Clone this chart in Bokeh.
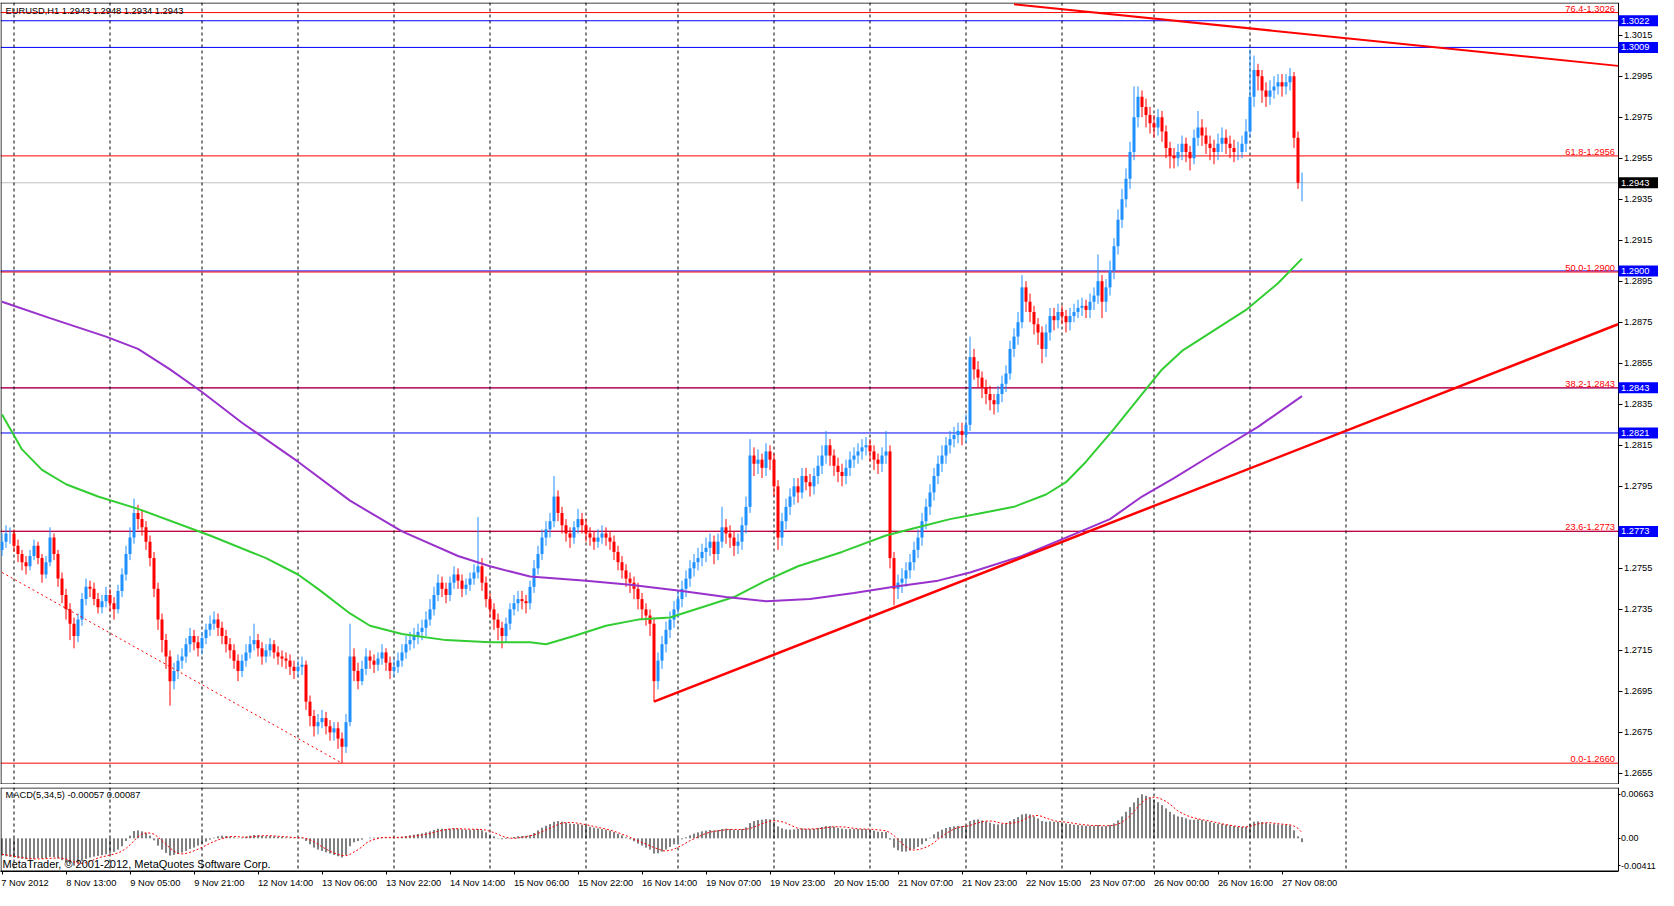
from bokeh.plotting import figure
from bokeh.models import Range1d, FixedTicker, Span, Label, ColumnDataSource, PrintfTickFormatter
from bokeh.core.properties import value
from bokeh.layouts import column
from bokeh.embed import file_html
from bokeh.resources import INLINE

FONT = "Liberation Sans"
FS = "9.3px"

# ---------------- data (EURUSD H1) ----------------
first_open = 1.2764
close = [
1.2768, 1.2772, 1.2772, 1.2766, 1.2762, 1.2758, 1.2756, 1.2761, 1.2766, 1.2760,
1.2752, 1.2758, 1.2770, 1.2762, 1.2750, 1.2742, 1.2735, 1.2728, 1.2722, 1.2730,
1.2740, 1.2746, 1.2745, 1.2740, 1.2736, 1.2739, 1.2742, 1.2738, 1.2735, 1.2744,
1.2752, 1.2762, 1.2770, 1.2782, 1.2779, 1.2775, 1.2768, 1.2760, 1.2745, 1.2730,
1.2720, 1.2712, 1.2700, 1.2705, 1.2710, 1.2712, 1.2718, 1.2722, 1.2719, 1.2716,
1.2721, 1.2725, 1.2728, 1.2730, 1.2726, 1.2722, 1.2718, 1.2715, 1.2710, 1.2705,
1.2710, 1.2714, 1.2718, 1.2720, 1.2716, 1.2712, 1.2715, 1.2718, 1.2714, 1.2712,
1.2711, 1.2710, 1.2707, 1.2705, 1.2707, 1.2708, 1.2690, 1.2683, 1.2678, 1.2680,
1.2682, 1.2678, 1.2675, 1.2677, 1.2672, 1.2668, 1.2680, 1.2712, 1.2705, 1.2700,
1.2706, 1.2712, 1.2710, 1.2708, 1.2711, 1.2714, 1.2709, 1.2705, 1.2707, 1.2710,
1.2714, 1.2718, 1.2720, 1.2722, 1.2724, 1.2726, 1.2730, 1.2735, 1.2742, 1.2748,
1.2745, 1.2742, 1.2748, 1.2752, 1.2749, 1.2745, 1.2747, 1.2750, 1.2753, 1.2756,
1.2748, 1.2740, 1.2735, 1.2730, 1.2726, 1.2722, 1.2728, 1.2735, 1.2738, 1.2740,
1.2739, 1.2738, 1.2746, 1.2755, 1.2762, 1.2770, 1.2774, 1.2778, 1.2790, 1.2782,
1.2776, 1.2772, 1.2770, 1.2775, 1.2779, 1.2776, 1.2772, 1.2770, 1.2768, 1.2770,
1.2772, 1.2770, 1.2768, 1.2763, 1.2758, 1.2754, 1.2750, 1.2748, 1.2745, 1.2740,
1.2735, 1.2732, 1.2728, 1.2700, 1.2710, 1.2718, 1.2725, 1.2730, 1.2735, 1.2740,
1.2745, 1.2750, 1.2755, 1.2758, 1.2760, 1.2763, 1.2765, 1.2768, 1.2762, 1.2768,
1.2775, 1.2772, 1.2770, 1.2766, 1.2768, 1.2776, 1.2785, 1.2810, 1.2806, 1.2808,
1.2804, 1.2812, 1.2808, 1.2795, 1.2770, 1.2778, 1.2785, 1.2790, 1.2795, 1.2792,
1.2800, 1.2797, 1.2795, 1.2800, 1.2805, 1.2810, 1.2815, 1.2810, 1.2805, 1.2802,
1.2800, 1.2804, 1.2808, 1.2810, 1.2812, 1.2814, 1.2815, 1.2812, 1.2808, 1.2806,
1.2810, 1.2812, 1.2760, 1.2745, 1.2748, 1.2750, 1.2754, 1.2758, 1.2764, 1.2770,
1.2778, 1.2785, 1.2792, 1.2800, 1.2806, 1.2810, 1.2815, 1.2818, 1.2820, 1.2822,
1.2820, 1.2825, 1.2858, 1.2852, 1.2848, 1.2843, 1.2840, 1.2837, 1.2835, 1.2840,
1.2845, 1.2850, 1.2862, 1.2868, 1.2875, 1.2892, 1.2885, 1.2880, 1.2874, 1.2870,
1.2862, 1.2870, 1.2878, 1.2876, 1.2880, 1.2878, 1.2875, 1.2878, 1.2880, 1.2882,
1.2883, 1.2881, 1.2885, 1.2888, 1.2895, 1.2885, 1.2892, 1.2900, 1.2912, 1.2925,
1.2935, 1.2945, 1.2958, 1.2975, 1.2985, 1.2980, 1.2976, 1.2972, 1.2970, 1.2975,
1.2968, 1.2960, 1.2956, 1.2955, 1.2958, 1.2962, 1.2958, 1.2955, 1.2965, 1.2970,
1.2966, 1.2962, 1.2960, 1.2958, 1.2962, 1.2965, 1.2962, 1.2960, 1.2958, 1.2958,
1.2962, 1.2968, 1.2985, 1.2998, 1.2995, 1.2988, 1.2985, 1.2988, 1.2990, 1.2992,
1.2990, 1.2992, 1.2995, 1.2965, 1.2943, 1.2943]

high = [
1.2772, 1.2776, 1.2775, 1.2774, 1.2769, 1.2764, 1.2761, 1.2764, 1.2769, 1.2768,
1.2762, 1.2761, 1.2775, 1.2772, 1.2764, 1.2753, 1.2745, 1.2738, 1.2731, 1.2733,
1.2743, 1.2750, 1.2749, 1.2748, 1.2743, 1.2742, 1.2746, 1.2745, 1.2741, 1.2747,
1.2755, 1.2766, 1.2775, 1.2789, 1.2786, 1.2783, 1.2778, 1.2771, 1.2763, 1.2748,
1.2733, 1.2723, 1.2715, 1.2709, 1.2713, 1.2716, 1.2721, 1.2726, 1.2725, 1.2722,
1.2724, 1.2728, 1.2732, 1.2734, 1.2733, 1.2729, 1.2725, 1.2721, 1.2718, 1.2713,
1.2713, 1.2718, 1.2722, 1.2728, 1.2723, 1.2719, 1.2718, 1.2721, 1.2720, 1.2717,
1.2715, 1.2714, 1.2713, 1.2710, 1.2710, 1.2712, 1.2710, 1.2693, 1.2686, 1.2684,
1.2686, 1.2685, 1.2681, 1.2680, 1.2680, 1.2675, 1.2684, 1.2728, 1.2716, 1.2709,
1.2710, 1.2716, 1.2715, 1.2713, 1.2714, 1.2718, 1.2716, 1.2712, 1.2711, 1.2714,
1.2718, 1.2722, 1.2724, 1.2726, 1.2728, 1.2730, 1.2734, 1.2740, 1.2746, 1.2752,
1.2751, 1.2748, 1.2751, 1.2756, 1.2755, 1.2752, 1.2750, 1.2753, 1.2757, 1.2780,
1.2760, 1.2751, 1.2743, 1.2738, 1.2733, 1.2729, 1.2731, 1.2738, 1.2742, 1.2744,
1.2744, 1.2742, 1.2749, 1.2759, 1.2766, 1.2774, 1.2778, 1.2782, 1.2800, 1.2793,
1.2785, 1.2779, 1.2775, 1.2778, 1.2784, 1.2782, 1.2779, 1.2775, 1.2773, 1.2774,
1.2776, 1.2775, 1.2773, 1.2771, 1.2766, 1.2761, 1.2757, 1.2753, 1.2751, 1.2748,
1.2743, 1.2738, 1.2735, 1.2731, 1.2714, 1.2722, 1.2729, 1.2734, 1.2739, 1.2744,
1.2749, 1.2754, 1.2759, 1.2762, 1.2765, 1.2767, 1.2770, 1.2772, 1.2771, 1.2772,
1.2785, 1.2779, 1.2776, 1.2773, 1.2772, 1.2780, 1.2790, 1.2818, 1.2814, 1.2813,
1.2811, 1.2816, 1.2815, 1.2811, 1.2798, 1.2782, 1.2789, 1.2794, 1.2799, 1.2799,
1.2804, 1.2804, 1.2801, 1.2804, 1.2810, 1.2815, 1.2822, 1.2818, 1.2813, 1.2809,
1.2806, 1.2808, 1.2812, 1.2814, 1.2816, 1.2818, 1.2819, 1.2818, 1.2815, 1.2811,
1.2814, 1.2822, 1.2815, 1.2763, 1.2752, 1.2755, 1.2758, 1.2762, 1.2768, 1.2774,
1.2782, 1.2789, 1.2796, 1.2804, 1.2810, 1.2815, 1.2819, 1.2822, 1.2824, 1.2826,
1.2826, 1.2830, 1.2868, 1.2862, 1.2856, 1.2851, 1.2847, 1.2844, 1.2840, 1.2844,
1.2849, 1.2854, 1.2866, 1.2872, 1.2880, 1.2898, 1.2895, 1.2889, 1.2883, 1.2877,
1.2873, 1.2874, 1.2882, 1.2882, 1.2884, 1.2883, 1.2881, 1.2882, 1.2884, 1.2886,
1.2887, 1.2886, 1.2889, 1.2892, 1.2908, 1.2898, 1.2896, 1.2905, 1.2916, 1.2930,
1.2940, 1.2950, 1.2963, 1.2990, 1.2990, 1.2988, 1.2984, 1.2980, 1.2976, 1.2979,
1.2978, 1.2971, 1.2963, 1.2960, 1.2962, 1.2966, 1.2965, 1.2961, 1.2969, 1.2978,
1.2974, 1.2970, 1.2966, 1.2964, 1.2967, 1.2970, 1.2969, 1.2966, 1.2964, 1.2963,
1.2966, 1.2974, 1.3008, 1.3005, 1.3001, 1.2998, 1.2992, 1.2993, 1.2995, 1.2996,
1.2996, 1.2996, 1.2999, 1.2997, 1.2968, 1.2948]

low = [
1.2761, 1.2765, 1.2767, 1.2763, 1.2758, 1.2754, 1.2752, 1.2754, 1.2759, 1.2757,
1.2748, 1.2750, 1.2756, 1.2759, 1.2746, 1.2738, 1.2730, 1.2720, 1.2716, 1.2719,
1.2727, 1.2737, 1.2741, 1.2737, 1.2733, 1.2733, 1.2736, 1.2734, 1.2730, 1.2733,
1.2741, 1.2749, 1.2759, 1.2767, 1.2774, 1.2771, 1.2764, 1.2756, 1.2741, 1.2725,
1.2714, 1.2706, 1.2688, 1.2696, 1.2701, 1.2706, 1.2709, 1.2714, 1.2715, 1.2712,
1.2713, 1.2718, 1.2722, 1.2725, 1.2722, 1.2718, 1.2714, 1.2711, 1.2706, 1.2700,
1.2702, 1.2707, 1.2711, 1.2715, 1.2712, 1.2708, 1.2709, 1.2712, 1.2711, 1.2708,
1.2707, 1.2706, 1.2703, 1.2701, 1.2702, 1.2703, 1.2686, 1.2678, 1.2673, 1.2674,
1.2677, 1.2674, 1.2671, 1.2671, 1.2667, 1.2660, 1.2665, 1.2678, 1.2700, 1.2696,
1.2698, 1.2703, 1.2706, 1.2704, 1.2705, 1.2708, 1.2705, 1.2701, 1.2702, 1.2704,
1.2707, 1.2711, 1.2715, 1.2716, 1.2718, 1.2720, 1.2722, 1.2727, 1.2732, 1.2739,
1.2741, 1.2738, 1.2739, 1.2745, 1.2745, 1.2741, 1.2742, 1.2744, 1.2747, 1.2750,
1.2744, 1.2736, 1.2731, 1.2725, 1.2720, 1.2716, 1.2719, 1.2725, 1.2732, 1.2734,
1.2735, 1.2733, 1.2735, 1.2743, 1.2752, 1.2759, 1.2766, 1.2770, 1.2775, 1.2778,
1.2772, 1.2768, 1.2765, 1.2767, 1.2772, 1.2772, 1.2768, 1.2766, 1.2764, 1.2765,
1.2767, 1.2766, 1.2764, 1.2759, 1.2754, 1.2750, 1.2746, 1.2743, 1.2740, 1.2735,
1.2730, 1.2727, 1.2722, 1.2690, 1.2696, 1.2706, 1.2714, 1.2721, 1.2726, 1.2731,
1.2736, 1.2741, 1.2746, 1.2751, 1.2754, 1.2756, 1.2758, 1.2761, 1.2757, 1.2759,
1.2765, 1.2767, 1.2765, 1.2761, 1.2762, 1.2764, 1.2772, 1.2782, 1.2800, 1.2801,
1.2799, 1.2800, 1.2803, 1.2790, 1.2764, 1.2766, 1.2774, 1.2781, 1.2786, 1.2787,
1.2789, 1.2793, 1.2790, 1.2791, 1.2796, 1.2801, 1.2806, 1.2805, 1.2800, 1.2797,
1.2795, 1.2796, 1.2800, 1.2804, 1.2806, 1.2808, 1.2810, 1.2807, 1.2803, 1.2801,
1.2802, 1.2806, 1.2755, 1.2737, 1.2740, 1.2743, 1.2746, 1.2750, 1.2754, 1.2760,
1.2766, 1.2774, 1.2781, 1.2788, 1.2796, 1.2802, 1.2806, 1.2811, 1.2814, 1.2816,
1.2815, 1.2816, 1.2822, 1.2847, 1.2843, 1.2838, 1.2835, 1.2832, 1.2830, 1.2831,
1.2836, 1.2841, 1.2847, 1.2858, 1.2864, 1.2872, 1.2880, 1.2875, 1.2869, 1.2864,
1.2855, 1.2858, 1.2866, 1.2871, 1.2872, 1.2874, 1.2870, 1.2871, 1.2875, 1.2877,
1.2878, 1.2877, 1.2877, 1.2881, 1.2884, 1.2877, 1.2880, 1.2888, 1.2896, 1.2908,
1.2921, 1.2931, 1.2940, 1.2954, 1.2970, 1.2975, 1.2970, 1.2967, 1.2965, 1.2966,
1.2963, 1.2955, 1.2950, 1.2950, 1.2951, 1.2954, 1.2953, 1.2949, 1.2952, 1.2961,
1.2961, 1.2957, 1.2954, 1.2952, 1.2954, 1.2958, 1.2957, 1.2955, 1.2953, 1.2954,
1.2955, 1.2958, 1.2965, 1.2980, 1.2988, 1.2982, 1.2980, 1.2981, 1.2984, 1.2986,
1.2985, 1.2986, 1.2988, 1.2960, 1.2940, 1.2934]

# MACD(5,34,5) histogram and signal, in units of 0.00001
macd_hist_1e5 = [
-260, -270, -280, -290, -300, -310, -315, -320, -310, -300,
-305, -300, -280, -285, -300, -330, -360, -390, -411, -380,
-340, -310, -290, -275, -265, -255, -240, -225, -205, -170,
-120, -40, 40, 110, 120, 105, 80, 40, -30, -110,
-170, -220, -260, -250, -235, -215, -190, -160, -140, -110,
-80, -50, -20, 10, 30, 40, 35, 25, 15, 5,
10, 25, 40, 50, 45, 35, 30, 35, 30, 25,
20, 15, 10, 5, 5, 10, -40, -90, -140, -170,
-190, -210, -230, -250, -270, -290, -250, -120, -60, -40,
-20, 0, 10, 10, 15, 20, 15, 10, 10, 15,
25, 35, 45, 55, 65, 75, 90, 105, 125, 145,
145, 140, 145, 150, 145, 135, 130, 130, 135, 140,
120, 90, 60, 30, 5, -15, -10, 5, 20, 30,
35, 35, 50, 80, 120, 160, 190, 215, 250, 260,
250, 235, 220, 215, 215, 205, 190, 175, 160, 150,
140, 130, 115, 95, 70, 45, 15, -15, -45, -80,
-110, -140, -170, -230, -225, -200, -170, -130, -90, -50,
-15, 15, 45, 70, 90, 105, 115, 125, 120, 125,
140, 145, 140, 130, 125, 140, 165, 230, 260, 275,
280, 290, 285, 250, 180, 150, 135, 130, 135, 140,
150, 145, 140, 145, 155, 170, 185, 185, 175, 160,
145, 140, 140, 140, 140, 140, 140, 130, 115, 100,
95, 95, -20, -140, -180, -200, -200, -185, -160, -130,
-90, -40, 10, 60, 100, 130, 155, 170, 180, 185,
185, 190, 260, 280, 285, 270, 255, 235, 215, 210,
215, 230, 260, 290, 320, 360, 370, 360, 330, 300,
260, 250, 255, 250, 250, 240, 225, 215, 205, 200,
195, 190, 190, 190, 200, 180, 185, 200, 225, 270,
330, 400, 470, 540, 610, 663, 640, 610, 580, 545,
500, 450, 400, 360, 330, 320, 300, 280, 280, 285,
275, 260, 245, 230, 220, 215, 205, 195, 185, 175,
170, 175, 215, 250, 255, 245, 230, 220, 215, 210,
205, 200, 195, 120, 30, -57]

macd_signal_1e5 = [
-240, -250, -260, -270, -280, -290, -300, -305, -310, -310,
-308, -306, -303, -298, -296, -300, -315, -335, -357, -373,
-376, -366, -346, -323, -296, -279, -267, -252, -238, -219,
-193, -152, -99, -37, 22, 67, 83, 79, 63, 21,
-37, -92, -146, -193, -227, -236, -228, -210, -188, -163,
-136, -106, -76, -48, -24, -4, 13, 26, 29, 24,
18, 18, 19, 25, 34, 39, 41, 39, 35, 31,
28, 24, 18, 11, 9, 9, -2, -22, -52, -87,
-128, -162, -194, -222, -242, -258, -262, -242, -206, -172,
-128, -73, -40, -18, -3, 11, 14, 14, 14, 14,
15, 19, 25, 32, 40, 51, 61, 75, 89, 106,
119, 132, 140, 145, 145, 143, 139, 138, 137, 136,
133, 123, 107, 85, 61, 34, 14, 4, -1, 6,
16, 26, 38, 52, 73, 97, 126, 154, 181, 207,
229, 238, 240, 236, 227, 216, 206, 193, 179, 165,
153, 140, 124, 106, 86, 63, 40, 17, -12, -39,
-63, -87, -113, -140, -159, -186, -191, -182, -164, -134,
-104, -70, -35, -8, 21, 50, 74, 92, 105, 113,
121, 129, 134, 135, 133, 133, 137, 148, 170, 193,
220, 240, 260, 267, 261, 250, 231, 202, 176, 150,
138, 139, 141, 142, 146, 150, 159, 167, 174, 176,
172, 168, 159, 151, 143, 140, 140, 138, 134, 127,
121, 114, 85, 40, -17, -77, -128, -164, -178, -171,
-156, -134, -105, -67, -12, 28, 72, 109, 140, 163,
176, 183, 194, 213, 234, 248, 259, 261, 257, 241,
227, 223, 226, 233, 246, 269, 298, 327, 341, 345,
330, 306, 286, 267, 253, 249, 245, 236, 226, 215,
208, 202, 196, 192, 193, 190, 189, 190, 197, 211,
242, 287, 340, 405, 477, 543, 585, 614, 620, 610,
587, 556, 513, 462, 412, 380, 349, 325, 308, 294,
282, 270, 259, 245, 233, 219, 207, 197, 188, 178,
172, 172, 182, 199, 217, 228, 235, 236, 228, 220,
214, 208, 203, 185, 150, 87]

# moving averages (bar index, price)
green_x = [0, 5, 10, 16, 24, 34, 52, 66, 74, 79, 87, 92, 100, 111, 122, 132, 136, 143, 151, 159,
           167, 175, 183, 191, 199, 210, 221, 229, 237, 245, 253, 261, 266, 271, 278, 285, 290, 295,
           303, 311, 319, 325]
green_y = [1.2830, 1.2813, 1.2803, 1.2796, 1.2790, 1.2784, 1.2771, 1.2760, 1.2752, 1.2745, 1.2733,
           1.2727, 1.2723, 1.2720, 1.2719, 1.2719, 1.2718, 1.2722, 1.2727, 1.2730, 1.2731, 1.2736,
           1.2741, 1.2749, 1.2756, 1.2763, 1.2771, 1.2775, 1.2779, 1.2782, 1.2785, 1.2791, 1.2797,
           1.2807, 1.2823, 1.2840, 1.2852, 1.2861, 1.2871, 1.2881, 1.2894, 1.2906]
purple_x = [0, 12, 26, 34, 42, 50, 60, 74, 87, 100, 114, 122, 132, 146, 157, 170, 181, 191, 202,
            213, 223, 234, 242, 255, 266, 277, 285, 293, 303, 314, 325]
purple_y = [1.2885, 1.2877, 1.2868, 1.2862, 1.2852, 1.2841, 1.2826, 1.2807, 1.2788, 1.2773, 1.2761,
            1.2756, 1.2751, 1.2749, 1.2747, 1.2744, 1.2741, 1.2739, 1.2740, 1.2743, 1.2746, 1.2749,
            1.2753, 1.2761, 1.2770, 1.2779, 1.2790, 1.2799, 1.2811, 1.2824, 1.2839]

# trend lines (bar index, price), right ends where they meet the price scale
up_tl_x = [163, 404]
up_tl_y = [1.2690, 1.2874]
down_tl_x = [253, 404]
down_tl_y = [1.3030, 1.3000]
dash_tl_x = [0, 85]
dash_tl_y = [1.2753, 1.2660]

fib_levels = [1.26600, 1.27731, 1.28430, 1.28995, 1.29561, 1.30260]
fib_texts = ["0.0-1.2660", "23.6-1.2773", "38.2-1.2843", "50.0-1.2900", "61.8-1.2956", "76.4-1.3026"]
blue_levels = [1.3022, 1.3009, 1.2900, 1.2843, 1.2821, 1.2773]
bid_price = 1.2943

price_ticks = [1.2655, 1.2675, 1.2695, 1.2715, 1.2735, 1.2755, 1.2795, 1.2815, 1.2835, 1.2855,
               1.2875, 1.2895, 1.2915, 1.2935, 1.2955, 1.2975, 1.2995, 1.3015]
time_tick_idx = [0, 16, 32, 48, 64, 80, 96, 112, 128, 144, 160, 176, 192, 208, 224, 240, 256, 272,
                 288, 304, 320]
time_tick_labels = ["7 Nov 2012", "8 Nov 13:00", "9 Nov 05:00", "9 Nov 21:00", "12 Nov 14:00",
                    "13 Nov 06:00", "13 Nov 22:00", "14 Nov 14:00", "15 Nov 06:00", "15 Nov 22:00",
                    "16 Nov 14:00", "19 Nov 07:00", "19 Nov 23:00", "20 Nov 15:00", "21 Nov 07:00",
                    "21 Nov 23:00", "22 Nov 15:00", "23 Nov 07:00", "26 Nov 00:00", "26 Nov 16:00",
                    "27 Nov 08:00"]
day_sep_idx = [3, 27, 50, 74, 98, 122, 146, 169, 193, 217, 241, 265, 288, 312, 336]
macd_ticks = [-0.00411, 0.0, 0.00663]
macd_tick_labels = ["-0.00411", "0.00", "0.00663"]

# ---------------- layout ----------------
W = 1658
MAIN_H = 784
MAIN_FRAME_H = MAIN_H - 2
MACD_H = 106
BAR_PX = 4.0
X0 = -0.375
X_END = X0 + W / BAR_PX          # frame spans whole width
AXIS_X = X0 + 1617.5 / BAR_PX    # price scale line, strip of labels to its right
Y0, Y1 = 1.26496, 1.30309
MY0, MY1 = -0.00500, 0.00766
PXU = MAIN_FRAME_H / (Y1 - Y0)
MPXU = 86 / (MY1 - MY0)
HALF_PX_X = 0.5 / BAR_PX

BULL = "#1E90FF"
BEAR = "#FF0000"

n = len(close)
idx = list(range(n))
opens = [first_open] + close[:-1]
src = ColumnDataSource(dict(
    x=idx, o=opens, c=close, h=high, l=low,
    top=[max(a, b) for a, b in zip(opens, close)],
    bot=[min(a, b) for a, b in zip(opens, close)],
    col=[BULL if b >= a else BEAR for a, b in zip(opens, close)],
))


def frame_box(fig, y_lo, y_hi, pxu):
    # left, top and bottom border of the chart window, up to the price scale
    fig.segment(x0=[X0 + HALF_PX_X, X0, X0], y0=[y_lo, y_hi - 0.5 / pxu, y_lo + 0.5 / pxu],
                x1=[X0 + HALF_PX_X, AXIS_X, AXIS_X], y1=[y_hi, y_hi - 0.5 / pxu, y_lo + 0.5 / pxu],
                line_color="black", line_width=1)


p = figure(width=W, height=MAIN_H, x_range=Range1d(X0, X_END), y_range=Range1d(Y0, Y1),
           output_backend="svg", toolbar_location=None, x_axis_location=None,
           y_axis_location="right", min_border_left=0, min_border_right=0,
           min_border_top=2, min_border_bottom=0, outline_line_color=None,
           background_fill_color="white", border_fill_color="white")
p.xgrid.visible = False
p.ygrid.visible = False
ya = p.yaxis[0]
ya.fixed_location = AXIS_X
ya.ticker = FixedTicker(ticks=price_ticks)
ya.formatter = PrintfTickFormatter(format="%.4f")
ya.major_tick_in = 0
ya.major_tick_out = 4
ya.minor_tick_out = 0
ya.minor_tick_in = 0
ya.major_label_standoff = 2
ya.axis_line_color = "black"
ya.major_label_text_font = FONT
ya.major_label_text_font_size = FS
ya.major_label_text_color = "black"

for d in day_sep_idx:
    p.add_layout(Span(location=d, dimension="height", line_color="black", line_dash="3 3",
                      line_width=1, level="underlay"))

n_b = len(blue_levels)
p.segment(x0=[X0] * n_b, y0=blue_levels, x1=[AXIS_X] * n_b, y1=blue_levels,
          line_color="#0000FF", line_width=1, level="underlay")
n_f = len(fib_levels)
p.segment(x0=[X0] * n_f, y0=fib_levels, x1=[AXIS_X] * n_f, y1=fib_levels,
          line_color="#FF0000", line_width=1, level="underlay")
p.segment(x0=[X0], y0=[bid_price], x1=[AXIS_X], y1=[bid_price],
          line_color="#C0C0C0", line_width=1, level="underlay")
frame_box(p, Y0, Y1, PXU)

p.segment(x0="x", y0="l", x1="x", y1="h", line_color="col", line_width=1, source=src)
p.vbar(x="x", width=0.75, top="top", bottom="bot", fill_color="col", line_color=None, source=src)

p.line(green_x, green_y, line_color="#32CD32", line_width=2)
p.line(purple_x, purple_y, line_color="#9932CC", line_width=2)

p.line(up_tl_x, up_tl_y, line_color="#FF0000", line_width=2.5)
p.line(down_tl_x, down_tl_y, line_color="#FF0000", line_width=2)
p.line(dash_tl_x, dash_tl_y, line_color="#FF0000", line_width=1, line_dash="2 3")

for lv, t in zip(fib_levels, fib_texts):
    p.add_layout(Label(x=AXIS_X, x_offset=-3, y=lv + 1.0 / PXU, text=t, text_align="right",
                       text_baseline="bottom", text_color="#FF0000", text_font=FONT,
                       text_font_size=FS))

# price boxes on the scale: blue for the horizontal lines, black for the bid
box_levels = blue_levels + [bid_price]
box_colors = ["#0000FF"] * n_b + ["black"]
box_src = ColumnDataSource(dict(
    y=box_levels,
    top=[v + 5.5 / PXU for v in box_levels],
    bot=[v - 5.5 / PXU for v in box_levels],
    col=box_colors,
    txt=[f"{v:.4f}" for v in box_levels],
    tx=[AXIS_X + 3.0 / BAR_PX] * len(box_levels),
))
p.quad(left=AXIS_X + HALF_PX_X, right=X_END, top="top", bottom="bot", fill_color="col",
       line_color=None, source=box_src, level="overlay")
p.text(x="tx", y="y", text="txt", text_color="white", text_font=value(FONT),
       text_font_size=value(FS), text_baseline="middle", text_align="left", source=box_src,
       level="overlay")

p.add_layout(Label(x=X0, x_offset=5, y=Y1 - 3.0 / PXU,
                   text="EURUSD,H1  1.2943 1.2948 1.2934 1.2943", text_align="left",
                   text_baseline="top", text_color="black", text_font=FONT, text_font_size=FS))

# ---------------- MACD panel ----------------
q = figure(width=W, height=MACD_H, x_range=p.x_range, y_range=Range1d(MY0, MY1),
           output_backend="svg", toolbar_location=None, x_axis_location="below",
           y_axis_location="right", min_border_left=0, min_border_right=0,
           min_border_top=3, min_border_bottom=0, outline_line_color=None,
           background_fill_color="white", border_fill_color="white")
q.xgrid.visible = False
q.ygrid.visible = False
for d in day_sep_idx:
    q.add_layout(Span(location=d, dimension="height", line_color="black", line_dash="3 3",
                      line_width=1, level="underlay"))
frame_box(q, MY0, MY1, MPXU)

macd_vals = [v * 1e-5 for v in macd_hist_1e5]
sig_vals = [v * 1e-5 for v in macd_signal_1e5]
q.segment(x0=idx, y0=[0.0] * n, x1=idx, y1=macd_vals, line_color="black", line_width=1)
q.line(idx, sig_vals, line_color="#FF0000", line_width=1, line_dash="2 2")

qy = q.yaxis[0]
qy.fixed_location = AXIS_X
qy.ticker = FixedTicker(ticks=macd_ticks)
qy.major_label_overrides = {t: s for t, s in zip(macd_ticks, macd_tick_labels)}
qy.major_tick_in = 0
qy.major_tick_out = 2
qy.minor_tick_out = 0
qy.minor_tick_in = 0
qy.major_label_standoff = 1
qy.axis_line_color = "black"
qy.major_label_text_font = FONT
qy.major_label_text_font_size = "9px"
qy.major_label_text_color = "black"

# MetaTrader writes each time label to the right of its tick: the label sits
# half its own width to the right of the tick, the tick itself is a minor tick.
label_pos = [i + (len(s) * 4.6) / (2 * BAR_PX) for i, s in zip(time_tick_idx, time_tick_labels)]
qx = q.xaxis[0]
qx.bounds = (X0, AXIS_X)
qx.ticker = FixedTicker(ticks=label_pos, minor_ticks=time_tick_idx)
qx.major_label_overrides = {t: s for t, s in zip(label_pos, time_tick_labels)}
qx.major_tick_in = 0
qx.major_tick_out = 0
qx.minor_tick_in = 0
qx.minor_tick_out = 3
qx.minor_tick_line_color = "black"
qx.major_label_standoff = 3
qx.axis_line_color = "black"
qx.major_label_text_font = FONT
qx.major_label_text_font_size = FS
qx.major_label_text_color = "black"

q.add_layout(Label(x=X0, x_offset=5, y=MY1 - 3.0 / MPXU,
                   text="MACD(5,34,5) -0.00057 0.00087", text_align="left",
                   text_baseline="top", text_color="black", text_font=FONT, text_font_size=FS))
q.add_layout(Label(x=X0, x_offset=2, y=MY0 + 2.0 / MPXU,
                   text="MetaTrader, \u00a9 2001-2012, MetaQuotes Software Corp.",
                   text_align="left", text_baseline="bottom", text_color="black",
                   text_font=FONT, text_font_size="11px"))

layout = column(p, q)
open("out.html", "w").write(file_html(layout, INLINE, title="EURUSD,H1"))
